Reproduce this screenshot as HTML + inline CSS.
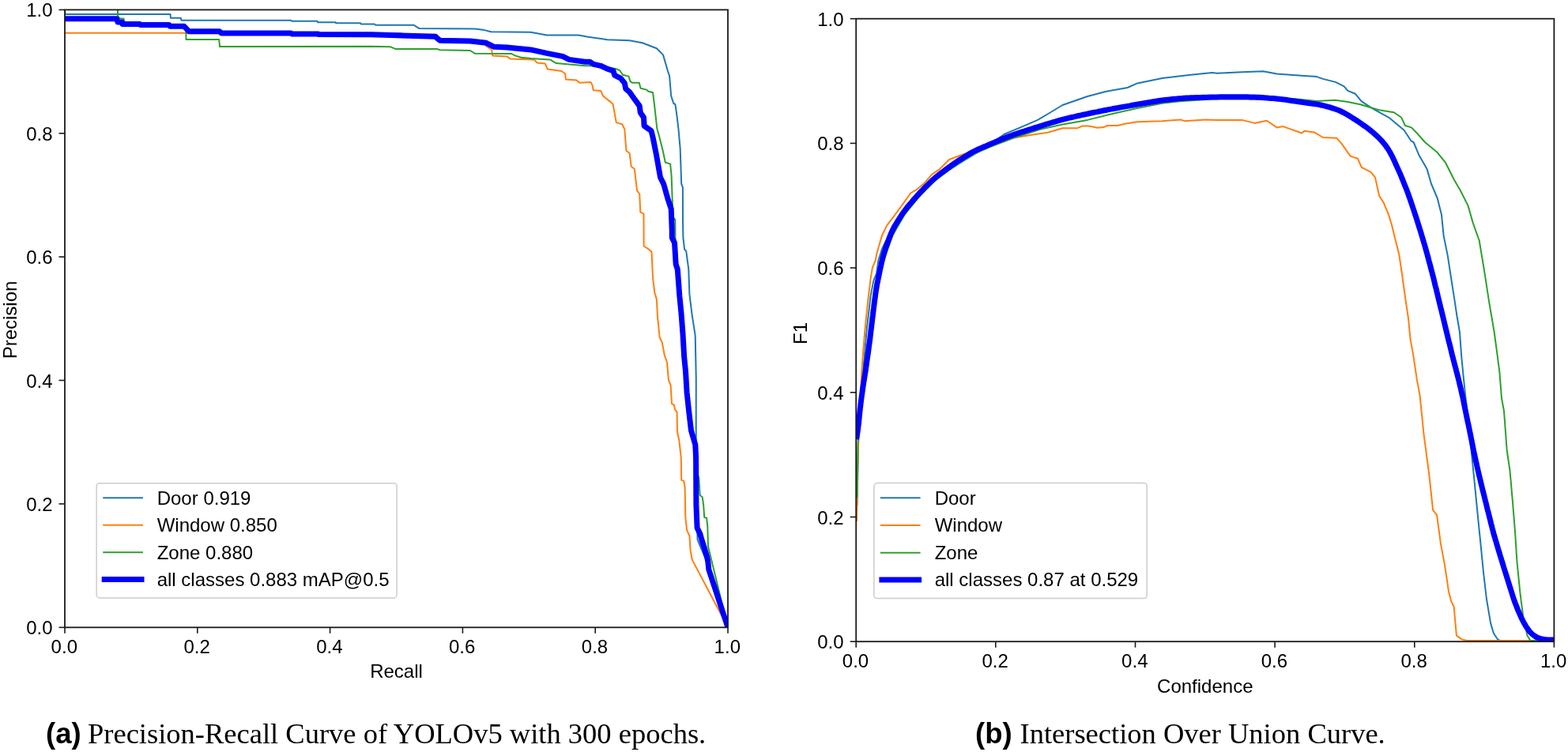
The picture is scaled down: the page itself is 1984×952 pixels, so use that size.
<!DOCTYPE html>
<html lang="en"><head><meta charset="utf-8"><title>PR and F1 curves</title>
<style>html,body{margin:0;padding:0;background:#fff;width:1984px;height:952px;overflow:hidden}svg{display:block}</style>
</head><body>
<svg width="1984" height="952" viewBox="0 0 1984 952" font-family="'Liberation Sans', Arial, Helvetica, sans-serif" font-size="24" fill="#000">
<rect width="1984" height="952" fill="#ffffff"/>
<defs><clipPath id="cl"><rect x="82.0" y="12.4" width="839.0" height="781.9"/></clipPath><clipPath id="cr"><rect x="1083.2" y="23.7" width="883.2" height="788.5"/></clipPath></defs>
<g clip-path="url(#cl)">
<polyline points="82,13 82.5,18.1 215.5,18.1 216,22.8 228.8,22.8 229.5,25.8 368.3,25.8 369,26.8 401.6,26.8 402,28.2 424.8,28.2 425,29.2 456,29.2 457,30.6 474,30.6 475,31.7 523.4,31.7 530.5,36.1 601,36.5 613,38.1 621.2,40.2 671.6,40.8 691.8,44.6 732,44.6 744.2,46.8 768.4,50.2 796.6,51.2 812.7,54.3 830.9,61.3 839,69.4 845,90 847.1,96.3 849.2,121.5 852.3,131 854.4,132 856.5,146.7 858.6,164.6 860.7,188.7 862.2,232.9 863.9,237.1 864,280 864.4,301 866.1,315.7 868.2,317.8 871.3,340.9 872.4,372.4 875.5,397.6 879.7,424.9 880.8,480 880.7,554 881.5,640 882.5,683 893,708 897,723 921,794.3" fill="none" stroke="#1f77b4" stroke-width="2.0" stroke-linejoin="round" stroke-linecap="butt" />
<polyline points="82,41.7 234.8,41.7 236,42.2 508,42.2 509,43.8 553,43.8 556,51 595,51.5 612,54 615.2,58.3 622.2,63.3 623.2,70.4 641.4,71.4 645.4,74.4 675.6,75.4 679.7,79.5 689.8,80.5 692.8,87.5 710.5,90 715.1,93.2 715.8,100.5 729.4,101.6 733.6,104.7 747.6,104.1 749.5,107.9 750.7,114.2 760.2,114.9 763,121.5 773.5,129.9 775.6,132 779.8,155.1 787.2,157.2 790.3,163.5 792.4,190.8 796.6,194 798.7,210.8 802.9,214 806.1,241.3 809.2,245.5 810.3,268.6 814.5,270.7 814.6,311.5 821,315.7 824.5,318.8 826.2,353.5 828.3,370.3 830.8,378.7 832.1,401.8 834.6,427 837.7,433.3 840.9,450.1 844,458.5 845.9,480.7 848.6,487.9 850,511.1 853,512.9 853.9,518.2 856.6,521.8 857,546.8 859.3,557.5 861.8,580 862.2,607.9 865.1,608.7 866.6,616.8 867.4,656.5 869.1,671.2 872.5,678.5 873.5,696.2 875.4,706.5 875.8,708.4 877.9,712.6 921,794.3" fill="none" stroke="#ff7f0e" stroke-width="2.0" stroke-linejoin="round" stroke-linecap="butt" />
<polyline points="82,11 149,11 149,20.2 152,23.6 156.5,23.6 157,30 177,31 214,31.5 233,33.3 235.2,34 235.5,50 277.2,50 278,59.1 470,58.7 494.2,59.3 500.2,61.9 552.7,61.9 556.7,63.3 595,64 601,67.8 647.4,68 651.5,70.4 659.5,72.8 671.6,74 695.8,75.4 703.9,80.1 740,83.3 747.6,83.3 760,85 779.1,87.1 784.1,89 787.9,94.7 795.5,96.6 797.4,102.9 799.9,104.8 808.7,104.8 810.6,111.7 818.2,113.6 820,115.5 826.1,117.3 828.2,134.1 831.3,162.5 834.5,174 838.7,190.8 841.8,205.5 848.1,207.6 849.6,222.4 851.5,274.9 854.3,278 854.5,301 855,335 858,341 860.5,375 862.5,396 865,423 866.5,452 868.5,470 870,497 872.5,522 875.5,545 880.5,563 881.8,580 882.5,600 884.3,605 885.7,627 888.7,629.3 890.1,638.8 891.2,655 894.1,655.7 895.3,666.8 896,691.8 921,794.3" fill="none" stroke="#2ca02c" stroke-width="2.0" stroke-linejoin="round" stroke-linecap="butt" />
<polyline points="82,23.8 147.5,23.8 149,28 154.6,28 155,30.5 176.8,30.5 177.5,31.5 214,31.5 215,33.3 233,33.3 239,39.7 277.6,39.7 280,41.9 368,41.9 369,43 402.6,43 403,43.5 470,43.8 550.6,46.2 556.7,51.3 595,51.9 615.2,54.3 625.2,59.3 641.4,59.9 671.6,62.9 691.8,67.4 712,71.4 720,75.4 740,78.3 746.3,78.3 751.3,81.4 760.2,83.3 768.4,87.1 775.9,89.6 777.8,95.3 785.4,99.1 790.4,105.4 791.7,112.3 796.7,116.7 803,125.7 809.2,134.1 810.3,142.5 814.5,148.8 815.1,159.3 824,165.6 826.1,174 830.3,195 835.5,224.5 839.7,232.9 845,251.8 849.2,264.4 850.2,290 850.3,301 853.5,307.3 855.2,334.6 857.3,340.9 859.8,374.5 861.9,395.5 864,422.8 865.7,452.2 867.5,470 869.1,496.8 871.8,521.8 874.5,545 879.8,562.9 880.6,580 880.9,638.8 882.1,668.2 885.7,675.6 888.7,685.9 891.6,694.7 894.6,705 895.7,710.5 896.8,721 921,794.3" fill="none" stroke="#0000ff" stroke-width="7.0" stroke-linejoin="round" stroke-linecap="butt" />
</g>
<g clip-path="url(#cr)">
<polyline points="1084.5,640 1086,560 1089.5,510 1093,460 1096.6,418.2 1101.7,374.1 1105.4,355 1109.1,346.2 1111.3,330 1116,315 1125,297 1140,273 1160,249 1182,229 1200,216 1217,205 1240,191 1255,181 1270.5,170 1291,161.4 1313,151.9 1328.8,142.5 1344.5,133 1376,122 1399.7,115.7 1426.5,111 1439.1,105.4 1470.6,99.1 1502.1,95.2 1533.6,92.1 1540,92.8 1571.5,91.3 1598.3,90.2 1615.6,93.6 1650.3,96 1666,97.1 1673.9,99.9 1689.7,103.9 1700.7,109.4 1705.4,114.9 1714.9,118.8 1722.8,128.3 1737,137.7 1757.4,148.8 1766.9,156.7 1776.3,164.5 1785.8,178.7 1788.6,180 1795.1,195.7 1805.6,214.1 1810.9,232.5 1818.7,250.9 1824,271.9 1826.6,298.1 1831.9,324.4 1837.1,358.5 1840,376.9 1843.3,399 1846.9,420 1849.4,453.6 1851.9,478.8 1854.5,504 1858,535 1861.6,570 1865.5,608.6 1869.3,647.3 1873.2,685.9 1877,724.5 1880.9,758 1886.1,788.9 1889.9,801.8 1895.1,809.5 1898,811 1970,811" fill="none" stroke="#1f77b4" stroke-width="2.0" stroke-linejoin="round" stroke-linecap="butt" />
<polyline points="1084,660 1085,600 1086.4,552 1088.5,505 1091,460 1094.4,418.2 1098.1,381.5 1101.7,352.1 1103.9,338.8 1107.6,330 1109.6,320 1116,298 1122.2,285.4 1131.7,272.8 1141.1,260.2 1152.2,244.5 1160,239.8 1169.5,231.9 1179,220.9 1188.4,214.6 1196.3,206.7 1201,202 1213.6,197.2 1240,188 1262.6,181.9 1281.5,174.8 1305.1,170.8 1325.6,167.7 1344.5,162.2 1363.4,162.2 1369.7,159.5 1377.6,159.5 1388.6,161.7 1396.5,161.1 1401.3,159 1413.9,159 1423.3,156.7 1439.1,154.3 1470.6,153.2 1494.2,151.6 1499,153.2 1525.7,151.6 1540,151.9 1571.5,151.9 1587.3,155.9 1603,152.7 1615.6,161.4 1623.5,160.1 1647.1,168.5 1650.3,165.8 1662.9,167.4 1673.9,174 1691.3,174.8 1697.6,181.9 1708.6,197.6 1718,200.8 1722.8,211.8 1734.6,217.9 1740,224.6 1745.2,248.2 1750.5,256.1 1757.1,271.9 1761,285 1766.2,306 1770.2,321.7 1774.1,348 1778.1,376.9 1782,403.1 1784.6,429.9 1788.2,449.4 1792.9,480.9 1796.5,500 1801.5,549.6 1808.1,599.3 1813.1,645.6 1818.1,652.2 1823,688.6 1828,715.1 1832.9,748.2 1836.3,761.4 1839.6,768 1842.9,804.4 1849.5,809.4 1856.1,811 1940,811" fill="none" stroke="#ff7f0e" stroke-width="2.0" stroke-linejoin="round" stroke-linecap="butt" />
<polyline points="1084.5,630 1085.5,560 1089,510 1094,462 1099.5,425 1104,390 1108,364 1113,347 1120,324 1130,297 1145,271 1163,249 1182,229.5 1207,210.5 1232,195 1255,185 1281.5,175 1316.2,163.7 1344.5,157.4 1376,151.9 1407.6,144 1439.1,137 1470.6,130.7 1492.6,128.3 1540,125 1600,125.5 1637.7,125.1 1666,128 1689.7,126.7 1705.4,129.1 1721.2,132.2 1744.8,139.3 1763.7,142.2 1773.2,148.8 1777.9,159 1785.8,161.4 1792.1,167.7 1803,180 1818.7,193.1 1829.2,206.2 1839.7,227.2 1848,241.5 1857.5,260.4 1863.8,282.4 1871.7,304.5 1878,342.3 1884.3,383.2 1890.6,420 1894,445.2 1897.3,470.4 1900,504 1903,520.2 1906.7,570 1910.5,595.8 1913.9,634.4 1917,673 1919.5,711.6 1923.4,750.3 1927.3,781.2 1932.4,804.4 1936.3,810.8 1970,811" fill="none" stroke="#2ca02c" stroke-width="2.0" stroke-linejoin="round" stroke-linecap="butt" />
<polyline points="1083.4,556 1084,553.1 1084.5,550.1 1085,547.1 1085.4,544.2 1085.8,541.2 1086.1,538.2 1086.5,535.2 1086.8,532.3 1087.1,529.3 1087.4,526.3 1087.7,523.3 1088,520.3 1088.3,517.3 1088.7,514.4 1089,511.4 1089.4,508.4 1089.8,505.4 1090.2,502.4 1090.6,499.5 1091,496.5 1091.4,493.5 1091.8,490.5 1092.3,487.6 1092.7,484.6 1093.2,481.7 1093.7,478.7 1094.1,475.7 1094.6,472.8 1095.1,469.8 1095.5,466.8 1095.9,463.9 1096.4,460.9 1096.8,457.9 1097.2,454.9 1097.6,452 1098.1,449 1098.5,446 1098.9,443 1099.3,440.1 1099.7,437.1 1100.1,434.1 1100.5,431.2 1100.9,428.2 1101.2,425.2 1101.6,422.2 1101.9,419.2 1102.3,416.3 1102.7,413.3 1103,410.3 1103.4,407.3 1103.7,404.3 1104.1,401.4 1104.5,398.4 1104.8,395.4 1105.2,392.4 1105.6,389.4 1105.9,386.5 1106.3,383.5 1106.7,380.5 1107.1,377.5 1107.5,374.5 1107.9,371.6 1108.3,368.6 1108.8,365.6 1109.3,362.7 1109.8,359.7 1110.4,356.8 1111,353.8 1111.6,350.9 1112.2,348 1112.8,345 1113.4,342.1 1114,339.2 1114.7,336.2 1115.3,333.3 1116,330.4 1116.7,327.5 1117.5,324.6 1118.3,321.7 1119.2,318.8 1120.1,316 1121,313.1 1122,310.3 1123,307.4 1124,304.6 1125,301.8 1126.1,299 1127.2,296.2 1128.4,293.5 1129.6,290.8 1131,288.1 1132.5,285.5 1134,283 1135.6,280.4 1137.2,277.9 1138.8,275.3 1140.4,272.8 1142.1,270.3 1143.8,267.9 1145.6,265.5 1147.4,263.1 1149.3,260.8 1151.2,258.5 1153.2,256.2 1155.1,253.9 1157.1,251.6 1159.1,249.4 1161.1,247.1 1163.1,244.9 1165.1,242.7 1167.2,240.6 1169.3,238.4 1171.4,236.3 1173.6,234.2 1175.7,232.1 1177.9,230 1180.1,227.9 1182.3,226 1184.6,224 1186.9,222.1 1189.3,220.3 1191.6,218.5 1194,216.7 1196.4,214.9 1198.8,213.1 1201.3,211.3 1203.7,209.5 1206.1,207.8 1208.6,206.1 1211.1,204.4 1213.6,202.8 1216.2,201.2 1218.7,199.6 1221.3,198 1223.8,196.5 1226.4,194.9 1229,193.4 1231.6,192 1234.3,190.6 1237,189.3 1239.7,188.1 1242.5,186.9 1245.2,185.8 1248,184.6 1250.7,183.4 1253.5,182.2 1256.3,181.1 1259,179.9 1261.8,178.7 1264.5,177.5 1267.3,176.3 1270.1,175.2 1272.9,174.1 1275.7,173 1278.5,172 1281.3,171 1284.1,170 1287,169 1289.8,168.1 1292.7,167.2 1295.5,166.3 1298.4,165.3 1301.3,164.4 1304.1,163.5 1307,162.6 1309.8,161.7 1312.7,160.8 1315.6,159.9 1318.4,159 1321.3,158.1 1324.2,157.2 1327,156.4 1329.9,155.5 1332.8,154.6 1335.7,153.8 1338.6,152.9 1341.4,152.1 1344.3,151.3 1347.2,150.6 1350.2,149.9 1353.1,149.2 1356,148.5 1358.9,147.9 1361.9,147.2 1364.8,146.5 1367.7,145.9 1370.6,145.2 1373.6,144.6 1376.5,144 1379.5,143.3 1382.4,142.7 1385.3,142.1 1388.3,141.6 1391.2,141 1394.2,140.4 1397.1,139.8 1400.1,139.2 1403,138.6 1405.9,138.1 1408.9,137.5 1411.8,137 1414.8,136.5 1417.8,135.9 1420.7,135.4 1423.7,134.9 1426.6,134.4 1429.6,133.9 1432.5,133.3 1435.5,132.8 1438.5,132.3 1441.4,131.8 1444.4,131.3 1447.3,130.8 1450.3,130.2 1453.2,129.7 1456.2,129.2 1459.2,128.7 1462.1,128.2 1465.1,127.7 1468,127.3 1471,126.9 1474,126.5 1477,126.2 1480,125.9 1482.9,125.6 1485.9,125.3 1488.9,125.1 1491.9,124.8 1494.9,124.6 1497.9,124.3 1500.9,124.1 1503.9,124 1506.9,123.8 1509.9,123.7 1512.9,123.6 1515.9,123.5 1518.9,123.4 1521.9,123.3 1524.9,123.2 1527.9,123.2 1530.9,123.1 1533.9,123 1536.9,122.9 1539.9,122.9 1542.9,122.8 1545.9,122.8 1548.9,122.8 1551.9,122.8 1554.9,122.8 1557.9,122.8 1560.9,122.8 1563.9,122.8 1566.9,122.8 1569.9,122.8 1572.9,122.8 1575.9,122.8 1578.9,122.8 1581.9,122.9 1584.9,122.9 1587.9,123 1590.9,123.2 1593.9,123.3 1596.9,123.5 1599.9,123.7 1602.9,123.9 1605.9,124.2 1608.9,124.4 1611.9,124.6 1614.8,124.9 1617.8,125.2 1620.8,125.6 1623.8,125.9 1626.8,126.3 1629.7,126.8 1632.7,127.2 1635.7,127.7 1638.6,128.1 1641.6,128.6 1644.6,129 1647.5,129.4 1650.5,129.9 1653.5,130.3 1656.5,130.7 1659.4,131.1 1662.4,131.5 1665.4,131.9 1668.3,132.4 1671.3,133 1674.2,133.6 1677.1,134.3 1680,135.1 1682.9,135.9 1685.7,136.8 1688.6,137.8 1691.4,138.8 1694.2,139.8 1696.9,141 1699.6,142.3 1702.2,143.7 1704.8,145.2 1707.4,146.8 1709.9,148.4 1712.4,150 1715,151.6 1717.5,153.2 1720,154.9 1722.5,156.6 1724.9,158.3 1727.4,160 1729.8,161.8 1732.2,163.6 1734.5,165.5 1736.8,167.4 1739.1,169.4 1741.3,171.4 1743.5,173.4 1745.6,175.5 1747.7,177.6 1749.7,179.9 1751.6,182.2 1753.4,184.5 1755.1,187 1756.8,189.5 1758.3,192 1759.8,194.7 1761.2,197.3 1762.5,200 1763.8,202.7 1765,205.4 1766.3,208.2 1767.5,210.9 1768.7,213.6 1770,216.4 1771.2,219.1 1772.4,221.9 1773.5,224.6 1774.7,227.4 1775.8,230.2 1776.9,233 1778,235.8 1779.1,238.5 1780.2,241.3 1781.3,244.2 1782.3,247 1783.3,249.8 1784.3,252.6 1785.3,255.5 1786.2,258.3 1787.2,261.2 1788.1,264 1789.1,266.9 1790,269.7 1791,272.6 1791.9,275.4 1792.8,278.3 1793.7,281.1 1794.6,284 1795.5,286.9 1796.4,289.7 1797.3,292.6 1798.2,295.5 1799,298.3 1799.9,301.2 1800.8,304.1 1801.6,307 1802.5,309.8 1803.3,312.7 1804.1,315.6 1804.9,318.5 1805.7,321.4 1806.5,324.3 1807.3,327.2 1808,330.1 1808.8,333 1809.6,335.9 1810.3,338.8 1811.1,341.7 1811.9,344.6 1812.6,347.5 1813.4,350.4 1814.1,353.3 1814.8,356.3 1815.5,359.2 1816.2,362.1 1817,365 1817.7,367.9 1818.4,370.8 1819.1,373.7 1819.8,376.7 1820.5,379.6 1821.2,382.5 1821.9,385.4 1822.6,388.3 1823.3,391.2 1824.1,394.2 1824.8,397.1 1825.5,400 1826.2,402.9 1826.9,405.8 1827.6,408.7 1828.3,411.7 1829,414.6 1829.7,417.5 1830.4,420.4 1831.1,423.3 1831.8,426.3 1832.5,429.2 1833.2,432.1 1834,435 1834.7,437.9 1835.4,440.8 1836.1,443.7 1836.8,446.7 1837.5,449.6 1838.3,452.5 1839,455.4 1839.8,458.3 1840.5,461.2 1841.3,464.1 1842.1,467 1842.8,469.9 1843.6,472.8 1844.3,475.7 1845.1,478.6 1845.8,481.5 1846.5,484.5 1847.2,487.4 1847.9,490.3 1848.6,493.2 1849.2,496.1 1849.9,499.1 1850.6,502 1851.2,504.9 1851.8,507.9 1852.4,510.8 1853,513.8 1853.6,516.7 1854.2,519.6 1854.8,522.6 1855.4,525.5 1856,528.5 1856.6,531.4 1857.2,534.3 1857.9,537.3 1858.5,540.2 1859.1,543.1 1859.7,546.1 1860.3,549 1860.9,552 1861.5,554.9 1862.1,557.9 1862.6,560.8 1863.2,563.7 1863.8,566.7 1864.4,569.6 1865,572.6 1865.7,575.5 1866.3,578.4 1866.9,581.4 1867.6,584.3 1868.3,587.2 1868.9,590.2 1869.6,593.1 1870.2,596 1870.9,598.9 1871.6,601.9 1872.3,604.8 1873,607.7 1873.7,610.6 1874.4,613.5 1875.1,616.5 1875.8,619.4 1876.5,622.3 1877.3,625.2 1878,628.1 1878.7,631 1879.4,633.9 1880.2,636.8 1880.9,639.8 1881.6,642.7 1882.3,645.6 1883.1,648.5 1883.8,651.4 1884.5,654.3 1885.3,657.2 1886,660.1 1886.7,663.1 1887.5,666 1888.2,668.9 1889,671.8 1889.7,674.7 1890.5,677.6 1891.4,680.4 1892.2,683.3 1893.1,686.2 1893.9,689.1 1894.8,692 1895.6,694.8 1896.5,697.7 1897.4,700.6 1898.2,703.5 1899.1,706.3 1900,709.2 1900.9,712.1 1901.8,714.9 1902.6,717.8 1903.5,720.7 1904.4,723.5 1905.3,726.4 1906.2,729.3 1907.1,732.1 1908,735 1908.9,737.9 1909.8,740.7 1910.7,743.6 1911.6,746.5 1912.5,749.3 1913.4,752.2 1914.3,755 1915.2,757.9 1916.2,760.7 1917.2,763.5 1918.3,766.3 1919.4,769.1 1920.5,771.9 1921.7,774.7 1922.9,777.4 1924.1,780.2 1925.4,782.9 1926.7,785.6 1928.1,788.2 1929.6,790.8 1931.1,793.4 1932.8,795.9 1934.5,798.2 1936.4,800.5 1938.5,802.6 1940.7,804.4 1943.1,806 1945.7,807.3 1948.4,808.3 1951.2,809 1954.1,809.4 1957,809.7 1960,809.9 1963,809.9 1966,810 1969,810 1970,810" fill="none" stroke="#0000ff" stroke-width="7.0" stroke-linejoin="round" stroke-linecap="butt" />
</g>
<rect x="82" y="12.4" width="839" height="781.9" fill="none" stroke="#1a1a1a" stroke-width="1.8"/>
<rect x="1083.2" y="23.7" width="883.2" height="788.5" fill="none" stroke="#1a1a1a" stroke-width="1.8"/>
<line x1="82" y1="794.3" x2="82" y2="801.8" stroke="#1a1a1a" stroke-width="1.6"/>
<line x1="74.5" y1="794.3" x2="82" y2="794.3" stroke="#1a1a1a" stroke-width="1.6"/>
<text x="81.3" y="826.8" text-anchor="middle">0.0</text>
<text x="66.5" y="803.3" text-anchor="end">0.0</text>
<line x1="249.8" y1="794.3" x2="249.8" y2="801.8" stroke="#1a1a1a" stroke-width="1.6"/>
<line x1="74.5" y1="637.9" x2="82" y2="637.9" stroke="#1a1a1a" stroke-width="1.6"/>
<text x="249.1" y="826.8" text-anchor="middle">0.2</text>
<text x="66.5" y="646.9" text-anchor="end">0.2</text>
<line x1="417.6" y1="794.3" x2="417.6" y2="801.8" stroke="#1a1a1a" stroke-width="1.6"/>
<line x1="74.5" y1="481.5" x2="82" y2="481.5" stroke="#1a1a1a" stroke-width="1.6"/>
<text x="416.9" y="826.8" text-anchor="middle">0.4</text>
<text x="66.5" y="490.5" text-anchor="end">0.4</text>
<line x1="585.4" y1="794.3" x2="585.4" y2="801.8" stroke="#1a1a1a" stroke-width="1.6"/>
<line x1="74.5" y1="325.2" x2="82" y2="325.2" stroke="#1a1a1a" stroke-width="1.6"/>
<text x="584.7" y="826.8" text-anchor="middle">0.6</text>
<text x="66.5" y="334.2" text-anchor="end">0.6</text>
<line x1="753.2" y1="794.3" x2="753.2" y2="801.8" stroke="#1a1a1a" stroke-width="1.6"/>
<line x1="74.5" y1="168.8" x2="82" y2="168.8" stroke="#1a1a1a" stroke-width="1.6"/>
<text x="752.5" y="826.8" text-anchor="middle">0.8</text>
<text x="66.5" y="177.8" text-anchor="end">0.8</text>
<line x1="921" y1="794.3" x2="921" y2="801.8" stroke="#1a1a1a" stroke-width="1.6"/>
<line x1="74.5" y1="12.4" x2="82" y2="12.4" stroke="#1a1a1a" stroke-width="1.6"/>
<text x="920.3" y="826.8" text-anchor="middle">1.0</text>
<text x="66.5" y="21.4" text-anchor="end">1.0</text>
<text x="501.5" y="858" text-anchor="middle">Recall</text>
<text transform="translate(21,405) rotate(-90)" text-anchor="middle">Precision</text>
<line x1="1083.2" y1="812.2" x2="1083.2" y2="819.7" stroke="#1a1a1a" stroke-width="1.6"/>
<line x1="1075.7" y1="812.2" x2="1083.2" y2="812.2" stroke="#1a1a1a" stroke-width="1.6"/>
<text x="1082.5" y="844.7" text-anchor="middle">0.0</text>
<text x="1067.5" y="821.2" text-anchor="end">0.0</text>
<line x1="1259.8" y1="812.2" x2="1259.8" y2="819.7" stroke="#1a1a1a" stroke-width="1.6"/>
<line x1="1075.7" y1="654.5" x2="1083.2" y2="654.5" stroke="#1a1a1a" stroke-width="1.6"/>
<text x="1259.1" y="844.7" text-anchor="middle">0.2</text>
<text x="1067.5" y="663.5" text-anchor="end">0.2</text>
<line x1="1436.5" y1="812.2" x2="1436.5" y2="819.7" stroke="#1a1a1a" stroke-width="1.6"/>
<line x1="1075.7" y1="496.8" x2="1083.2" y2="496.8" stroke="#1a1a1a" stroke-width="1.6"/>
<text x="1435.8" y="844.7" text-anchor="middle">0.4</text>
<text x="1067.5" y="505.8" text-anchor="end">0.4</text>
<line x1="1613.1" y1="812.2" x2="1613.1" y2="819.7" stroke="#1a1a1a" stroke-width="1.6"/>
<line x1="1075.7" y1="339.1" x2="1083.2" y2="339.1" stroke="#1a1a1a" stroke-width="1.6"/>
<text x="1612.4" y="844.7" text-anchor="middle">0.6</text>
<text x="1067.5" y="348.1" text-anchor="end">0.6</text>
<line x1="1789.8" y1="812.2" x2="1789.8" y2="819.7" stroke="#1a1a1a" stroke-width="1.6"/>
<line x1="1075.7" y1="181.4" x2="1083.2" y2="181.4" stroke="#1a1a1a" stroke-width="1.6"/>
<text x="1789.1" y="844.7" text-anchor="middle">0.8</text>
<text x="1067.5" y="190.4" text-anchor="end">0.8</text>
<line x1="1966.4" y1="812.2" x2="1966.4" y2="819.7" stroke="#1a1a1a" stroke-width="1.6"/>
<line x1="1075.7" y1="23.7" x2="1083.2" y2="23.7" stroke="#1a1a1a" stroke-width="1.6"/>
<text x="1965.7" y="844.7" text-anchor="middle">1.0</text>
<text x="1067.5" y="32.7" text-anchor="end">1.0</text>
<text x="1524.8" y="877" text-anchor="middle">Confidence</text>
<text transform="translate(1021,422) rotate(-90)" text-anchor="middle">F1</text>
<rect x="122.1" y="611.7" width="380" height="145.2" rx="4" ry="4" fill="#ffffff" fill-opacity="0.8" stroke="#cccccc" stroke-width="1.5"/>
<line x1="130.2" y1="630.2" x2="181" y2="630.2" stroke="#1f77b4" stroke-width="2.0"/>
<text x="198.7" y="638.5">Door 0.919</text>
<line x1="130.2" y1="664.7" x2="181" y2="664.7" stroke="#ff7f0e" stroke-width="2.0"/>
<text x="198.7" y="673">Window 0.850</text>
<line x1="130.2" y1="699.2" x2="181" y2="699.2" stroke="#2ca02c" stroke-width="2.0"/>
<text x="198.7" y="707.5">Zone 0.880</text>
<line x1="128.7" y1="733.5" x2="182.5" y2="733.5" stroke="#0000ff" stroke-width="7.0"/>
<text x="198.7" y="741.8">all classes 0.883 mAP@0.5</text>
<rect x="1105.9" y="611.6" width="345.3" height="146" rx="4" ry="4" fill="#ffffff" fill-opacity="0.8" stroke="#cccccc" stroke-width="1.5"/>
<line x1="1113.9" y1="630.2" x2="1164.6" y2="630.2" stroke="#1f77b4" stroke-width="2.0"/>
<text x="1182.7" y="638.5">Door</text>
<line x1="1113.9" y1="664.9" x2="1164.6" y2="664.9" stroke="#ff7f0e" stroke-width="2.0"/>
<text x="1182.7" y="673.2">Window</text>
<line x1="1113.9" y1="699.8" x2="1164.6" y2="699.8" stroke="#2ca02c" stroke-width="2.0"/>
<text x="1182.7" y="708.1">Zone</text>
<line x1="1112.4" y1="733.9" x2="1166.1" y2="733.9" stroke="#0000ff" stroke-width="7.0"/>
<text x="1182.7" y="742.2">all classes 0.87 at 0.529</text>
<text x="58" y="941" font-family="'Liberation Sans', Arial, Helvetica, sans-serif" font-weight="bold" font-size="36.5">(a)</text>
<text x="111" y="941" font-family="'Liberation Serif', 'Times New Roman', serif" font-size="36.5">Precision-Recall Curve of YOLOv5 with 300 epochs.</text>
<text x="1234" y="941" font-family="'Liberation Sans', Arial, Helvetica, sans-serif" font-weight="bold" font-size="36.5">(b)</text>
<text x="1290.5" y="941" font-family="'Liberation Serif', 'Times New Roman', serif" font-size="36.5">Intersection Over Union Curve.</text>
</svg>
</body></html>
